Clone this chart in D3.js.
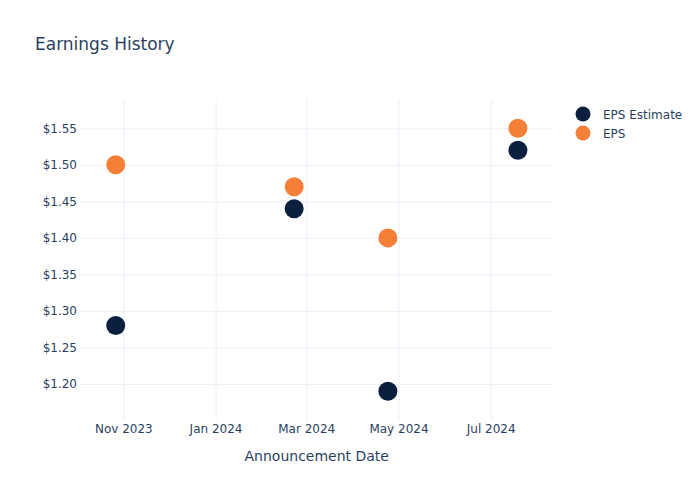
<!DOCTYPE html>
<html>
<head>
<meta charset="utf-8">
<script src="https://cdn.jsdelivr.net/npm/d3@7"></script>
<style>
  body { margin: 0; background: #fff; }
  svg { display: block; font-family: "DejaVu Sans", "Open Sans", sans-serif; }
</style>
</head>
<body>
<svg id="chart" width="700" height="500"></svg>
<script>
const dates = ["2023-10-27", "2024-02-22", "2024-04-24", "2024-07-19"];
const epsEstimate = [1.28, 1.44, 1.19, 1.52];
const eps = [1.50, 1.47, 1.40, 1.55];
const seriesNames = ["EPS Estimate", "EPS"];
const seriesColors = ["#0b1f3f", "#f57f36"];
const xTickDates = ["2023-11-01", "2024-01-01", "2024-03-01", "2024-05-01", "2024-07-01"];
const yTickValues = [1.20, 1.25, 1.30, 1.35, 1.40, 1.45, 1.50, 1.55];

(function () {
const parse = d3.utcParse("%Y-%m-%d");
const svg = d3.select("#chart");
const textColor = "#2a3f5f";
const gridColor = "#ebf0f8";

const pl = 80, pr = 553.5, pt = 100, pb = 420;

// calibrate x scale: Nov 1 2023 -> 123.3, Jul 1 2024 -> 490.7, then extend to plot edges
const xCal = d3.scaleUtc().domain([parse("2023-11-01"), parse("2024-07-01")]).range([123.3, 490.7]);
const x = d3.scaleUtc().domain([xCal.invert(pl), xCal.invert(pr)]).range([pl, pr]);

const yCal = d3.scaleLinear().domain([1.20, 1.55]).range([384, 128.3]);
const y = d3.scaleLinear().domain([yCal.invert(pb), yCal.invert(pt)]).range([pb, pt]);

// x grid + labels
const gx = svg.append("g").attr("transform", `translate(0,${pb})`)
  .call(d3.axisBottom(x).tickValues(xTickDates.map(parse)).tickSize(-(pb - pt)).tickFormat(d3.utcFormat("%b %Y")));
gx.attr("font-family", null).attr("font-size", null);
gx.select(".domain").remove();
gx.selectAll(".tick line").attr("stroke", gridColor).attr("stroke-width", 1);
gx.selectAll(".tick text").attr("fill", textColor).attr("font-size", 12).attr("y", 13).attr("dy", 0);

// y grid + labels
const gy = svg.append("g").attr("transform", `translate(${pl},0)`)
  .call(d3.axisLeft(y).tickValues(yTickValues).tickSize(-(pr - pl)).tickFormat(d => "$" + d3.format(".2f")(d)));
gy.attr("font-family", null).attr("font-size", null);
gy.select(".domain").remove();
gy.selectAll(".tick line").attr("stroke", gridColor).attr("stroke-width", 1);
gy.selectAll(".tick text").attr("fill", textColor).attr("font-size", 12).attr("x", -3);

// points
const seriesData = [epsEstimate, eps];
seriesData.forEach((vals, i) => {
  svg.append("g").selectAll("circle").data(vals).join("circle")
    .attr("cx", (d, j) => x(parse(dates[j])))
    .attr("cy", d => y(d))
    .attr("r", 9.5)
    .attr("fill", seriesColors[i]);
});

// title
svg.append("text").attr("x", 35).attr("y", 50).attr("fill", textColor).attr("font-size", 17).text("Earnings History");

// axis title
svg.append("text").attr("x", (pl + pr) / 2).attr("y", 461).attr("text-anchor", "middle")
  .attr("fill", textColor).attr("font-size", 14).text("Announcement Date");

// legend
const leg = svg.append("g");
seriesNames.forEach((name, i) => {
  const ly = 114 + i * 19;
  leg.append("circle").attr("cx", 583).attr("cy", ly).attr("r", 7.5).attr("fill", seriesColors[i]);
  leg.append("text").attr("x", 603).attr("y", ly + 4.5).attr("fill", textColor).attr("font-size", 12).text(name);
});
})();
</script>
</body>
</html>
